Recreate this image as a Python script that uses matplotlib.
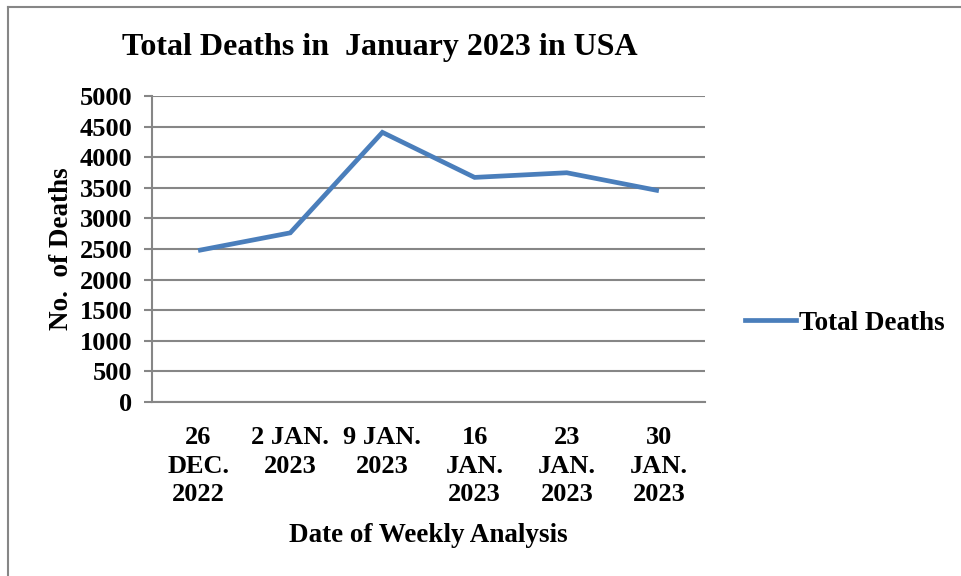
import matplotlib
matplotlib.use("Agg")
import matplotlib.pyplot as plt
from matplotlib.lines import Line2D

# data
dates = ["26\nDEC.\n2022", "2 JAN.\n2023", "9 JAN.\n2023",
         "16\nJAN.\n2023", "23\nJAN.\n2023", "30\nJAN.\n2023"]
total_deaths = [2475, 2764, 4406, 3670, 3746, 3452]
y_ticks = [0, 500, 1000, 1500, 2000, 2500, 3000, 3500, 4000, 4500, 5000]

plt.rcParams["font.family"] = ["Liberation Serif", "DejaVu Serif"]
plt.rcParams["font.weight"] = "bold"

GRID = "#868686"
BLUE = "#4a7ebb"

fig = plt.figure(figsize=(9.61, 5.76), dpi=100)
ax = fig.add_axes([152 / 961, 1 - 402 / 576, (705 - 152) / 961, (402 - 96) / 576])

x = list(range(len(dates)))
ax.plot(x, total_deaths, color=BLUE, lw=3.4, solid_joinstyle="miter",
        solid_capstyle="butt", label="Total Deaths")

ax.set_xlim(-0.5, len(dates) - 0.5)
ax.set_ylim(0, 5000)
ax.set_yticks(y_ticks)
ax.set_yticklabels([str(v) for v in y_ticks], fontsize=19, fontweight="bold")
ax.set_xticks(x)
ax.set_xticklabels(dates, fontsize=19, fontweight="bold", linespacing=1.33)

ax.grid(axis="y", color=GRID, lw=1.5)
ax.set_axisbelow(True)
for side in ["top", "right"]:
    ax.spines[side].set_visible(False)
for side in ["left", "bottom"]:
    ax.spines[side].set_color(GRID)
    ax.spines[side].set_linewidth(1.5)
ax.tick_params(axis="y", direction="out", length=6, color=GRID, width=1.5, pad=8)
ax.tick_params(axis="x", length=0, pad=17)

ax.set_ylabel("No.  of Deaths", fontsize=19.5, fontweight="bold", labelpad=4)
ax.set_xlabel("Date of Weekly Analysis", fontsize=19.5, fontweight="bold", labelpad=12)

fig.text(122 / 961, 1 - 47 / 576, "Total Deaths in  January 2023 in USA",
         fontsize=23, fontweight="bold", va="center", ha="left")

handle = Line2D([0], [0], color=BLUE, lw=3.4)
fig.legend([handle], ["Total Deaths"], loc="center left",
           bbox_to_anchor=(745 / 961, 1 - 323 / 576), frameon=False,
           prop={"size": 19.5, "weight": "bold"}, handlelength=1.9,
           handletextpad=0.1, borderaxespad=0, borderpad=0)

# outer frame (only top and left are visible in the crop)
fig.add_artist(Line2D([8 / 961, 8 / 961], [0, 1 - 7 / 576], color=GRID, lw=1.5))
fig.add_artist(Line2D([8 / 961, 1], [1 - 7 / 576, 1 - 7 / 576], color=GRID, lw=1.5))

fig.savefig("out.png", dpi=100)
